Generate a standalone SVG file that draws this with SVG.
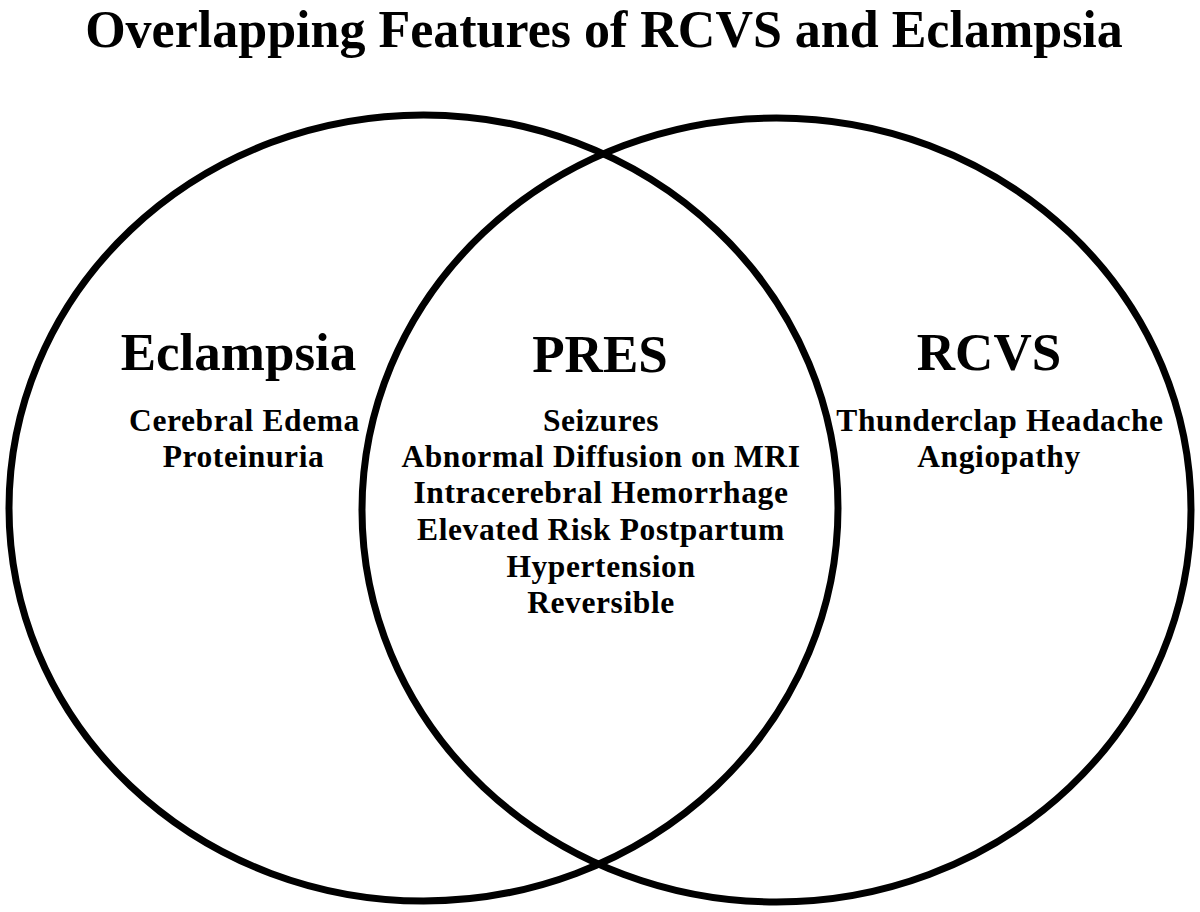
<svg xmlns="http://www.w3.org/2000/svg" width="1200" height="912" viewBox="0 0 1200 912">
<style>
text{font-family:"Liberation Serif","Times New Roman",serif;font-weight:bold;fill:#000;text-anchor:middle}
.title{font-size:52px}
.head{font-size:53px}
.item{font-size:31.5px;letter-spacing:0.6px}
.ring{fill:none;stroke:#000;stroke-width:7}
</style>
<rect width="1200" height="912" fill="#fff"/>
<text class="title" x="604" y="47">Overlapping Features of RCVS and Eclampsia</text>
<g id="connectors"></g>
<g id="eclampsia">
<ellipse class="ring" cx="423.5" cy="508" rx="414.5" ry="393"/>
<text class="head" x="238.5" y="370">Eclampsia</text>
<text class="item" x="244.5" y="431">Cerebral Edema</text>
<text class="item" x="243.5" y="467">Proteinuria</text>
</g>
<g id="rcvs">
<ellipse class="ring" cx="776.5" cy="510" rx="414.5" ry="392"/>
<text class="head" x="989" y="370">RCVS</text>
<text class="item" x="1000" y="431">Thunderclap Headache</text>
<text class="item" x="999" y="467">Angiopathy</text>
</g>
<g id="pres">
<text class="head" x="600" y="372">PRES</text>
<text class="item" x="601" y="431">Seizures</text>
<text class="item" x="601" y="467">Abnormal Diffusion on MRI</text>
<text class="item" x="601" y="503">Intracerebral Hemorrhage</text>
<text class="item" x="601" y="540">Elevated Risk Postpartum</text>
<text class="item" x="601" y="577">Hypertension</text>
<text class="item" x="601" y="613">Reversible</text>
</g>
</svg>
